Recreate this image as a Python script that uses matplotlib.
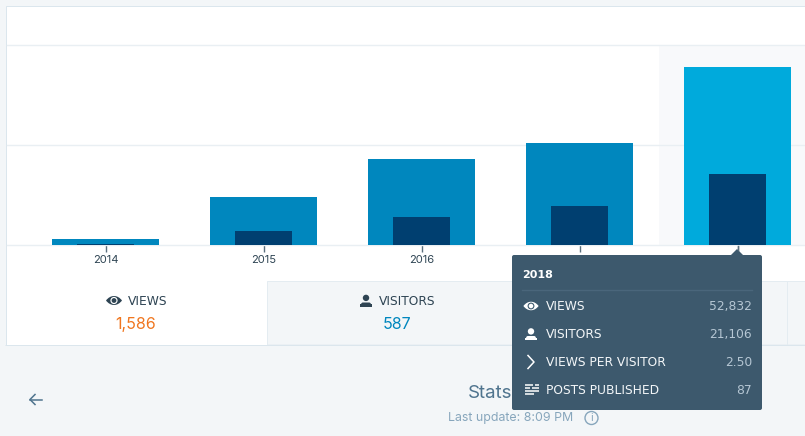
import matplotlib
matplotlib.use('Agg')

import matplotlib.pyplot as plt
from matplotlib.patches import Rectangle, FancyBboxPatch, Polygon, Circle, PathPatch
from matplotlib.path import Path

plt.rcParams['font.family'] = ['Inter', 'DejaVu Sans']

years = ['2014', '2015', '2016', '2017', '2018']
views = [1780, 14250, 25500, 30300, 52832]
visitors = [400, 4150, 8300, 11600, 21106]
y_max = 59400
y_grid = [0, 29700, 59400]

tip_title = '2018'
tip_labels = ['VIEWS', 'VISITORS', 'VIEWS PER VISITOR', 'POSTS PUBLISHED']
tip_values = ['52,832', '21,106', '2.50', '87']

PAGE = '#f3f6f8'
BORDER = '#dbe6ed'
GRID = '#e9eff3'
BAR = '#0087be'
BAR_HI = '#00aadc'
BAR_DARK = '#003f70'
TEXT = '#2e4453'
TIP = '#3d596d'
WIDE = 'DejaVu Sans'  # the small caps labels are letter spaced in the original

W, H = 805, 436
fig = plt.figure(figsize=(W / 100, H / 100), dpi=100, facecolor=PAGE)


def page_axes(zorder):
    a = fig.add_axes([0, 0, 1, 1], zorder=zorder)
    a.set_xlim(0, W)
    a.set_ylim(H, 0)
    a.axis('off')
    a.patch.set_alpha(0)
    return a


# page background and the white card
back = page_axes(0)
back.add_patch(Rectangle((6.5, 6.5), W, 339, facecolor='white', edgecolor=BORDER, linewidth=0.72, snap=False))

# chart
ax = fig.add_axes([7 / W, 1 - 245 / H, 1 - 7 / W, 200 / H], zorder=1)
ax.patch.set_alpha(0)
x = list(range(len(years)))
ax.axvspan(3.5, 4.5, color='#f8f9fb', linewidth=0, zorder=0)
colors = [BAR, BAR, BAR, BAR, BAR_HI]
ax.bar(x, views, width=107 / 158, color=colors, linewidth=0, zorder=2)
ax.bar(x, visitors, width=57 / 158, color=BAR_DARK, linewidth=0, zorder=3)
ax.set_xlim((7 - 105.5) / 158, (805 - 105.5) / 158)
ax.set_ylim(0, y_max)
ax.set_yticks(y_grid)
ax.set_xticks(x)
ax.set_xticklabels(years)
ax.tick_params(axis='y', left=False, labelleft=False)
ax.tick_params(axis='x', length=5, width=1, color='#5a6f7e', labelsize=8, labelcolor=TEXT, pad=2)
ax.grid(True, axis='y', color=GRID, linewidth=1, zorder=1, clip_on=False)
for s in ax.spines.values():
    s.set_visible(False)

over = page_axes(2)


def eye(a, cx, cy, color, bg, s=1.0):
    verts = [(cx - 8 * s, cy), (cx - 3.5 * s, cy - 6 * s), (cx + 3.5 * s, cy - 6 * s), (cx + 8 * s, cy),
             (cx + 3.5 * s, cy + 6 * s), (cx - 3.5 * s, cy + 6 * s), (cx - 8 * s, cy)]
    codes = [Path.MOVETO, Path.CURVE4, Path.CURVE4, Path.CURVE4, Path.CURVE4, Path.CURVE4, Path.CURVE4]
    a.add_patch(PathPatch(Path(verts, codes), facecolor=color, linewidth=0))
    a.add_patch(Circle((cx, cy), 3.6 * s, facecolor=bg, linewidth=0))
    a.add_patch(Circle((cx, cy), 2.4 * s, facecolor=color, linewidth=0))


def person(a, cx, cy, color, s=1.0):
    a.add_patch(Circle((cx, cy - 2.6 * s), 3.2 * s, facecolor=color, linewidth=0))
    a.add_patch(FancyBboxPatch((cx - 5 * s, cy + 2 * s), 10 * s, 3 * s, boxstyle='round,pad=0,rounding_size=2',
                               facecolor=color, linewidth=0))
    a.add_patch(Rectangle((cx - 6 * s, cy + 3.5 * s), 12 * s, 2.5 * s, facecolor=color, linewidth=0))


# tabs under the chart
over.add_patch(Rectangle((267.5, 281.5), W - 267, 63.5, facecolor=PAGE, edgecolor='#e4ecf1', linewidth=0.72, snap=False))
over.plot([787.5, 787.5], [282, 345], color='#e4ecf1', lw=0.72, snap=False)
over.plot([6, W], [345.5, 345.5], color=BORDER, lw=0.72, snap=False)
eye(over, 114, 300.5, TEXT, 'white', 1.0)
over.text(128, 301, 'VIEWS', fontsize=8.8, color=TEXT, va='center', ha='left', family=WIDE)
over.text(136, 324, '1,586', fontsize=11.5, color='#f0761f', va='center', ha='center')
person(over, 366, 300.5, TEXT)
over.text(379, 301, 'VISITORS', fontsize=8.8, color=TEXT, va='center', ha='left', family=WIDE)
over.text(397, 324, '587', fontsize=11.5, color=BAR, va='center', ha='center')

# footer
over.plot([30, 42], [399.5, 399.5], color='#4f748e', lw=1.1)
over.plot([35, 30, 35], [394.5, 399.5, 404.5], color='#4f748e', lw=1.1)
over.text(468, 393, 'Stats', fontsize=13.5, color='#4f748e', va='center', ha='left')
over.text(448, 418, 'Last update: 8:09 PM', fontsize=8.9, color='#87a6bc', va='center', ha='left')
over.add_patch(Circle((591.5, 418), 6.5, facecolor='none', edgecolor='#87a6bc', linewidth=1))
over.text(591.5, 418, 'i', fontsize=8, color='#87a6bc', va='center', ha='center')

# tooltip
tip = page_axes(3)
tip.add_patch(FancyBboxPatch((512, 255), 250, 155, boxstyle='round,pad=0,rounding_size=2', facecolor=TIP, linewidth=0))
tip.add_patch(Polygon([(730, 256), (737, 249), (744, 256)], facecolor=TIP, linewidth=0))
tip.plot([737.5, 737.5], [245.5, 250], color='#5a6f7e', lw=1)
tip.text(522, 275, tip_title, fontsize=8, fontweight='bold', color='white', va='center', ha='left', family=WIDE)
tip.plot([522, 752], [289.5, 289.5], color='#4a667b', lw=1)

row_y = [306, 334, 362, 390]
for yy, label, value in zip(row_y, tip_labels, tip_values):
    tip.text(546, yy + 0.5, label, fontsize=8.8, color='#f3f6f8', va='center', ha='left', family=WIDE)
    tip.text(752, yy + 0.5, value, fontsize=8.8, color='#b5c6d3', va='center', ha='right', family=WIDE)

eye(tip, 531, 306, 'white', TIP, 0.95)
person(tip, 531, 334, 'white')
tip.plot([528, 534, 528], [355.5, 362, 368.5], color='white', lw=1.1)
for yy, x0, x1 in [(385, 525, 533), (385, 535, 538.5), (388, 525, 530), (388, 532, 538.5),
                   (391, 525, 538.5), (394, 525, 534)]:
    tip.plot([x0, x1], [yy, yy], color='white', lw=1.1, solid_capstyle='butt')

fig.savefig('out.png', dpi=100, facecolor=PAGE)
